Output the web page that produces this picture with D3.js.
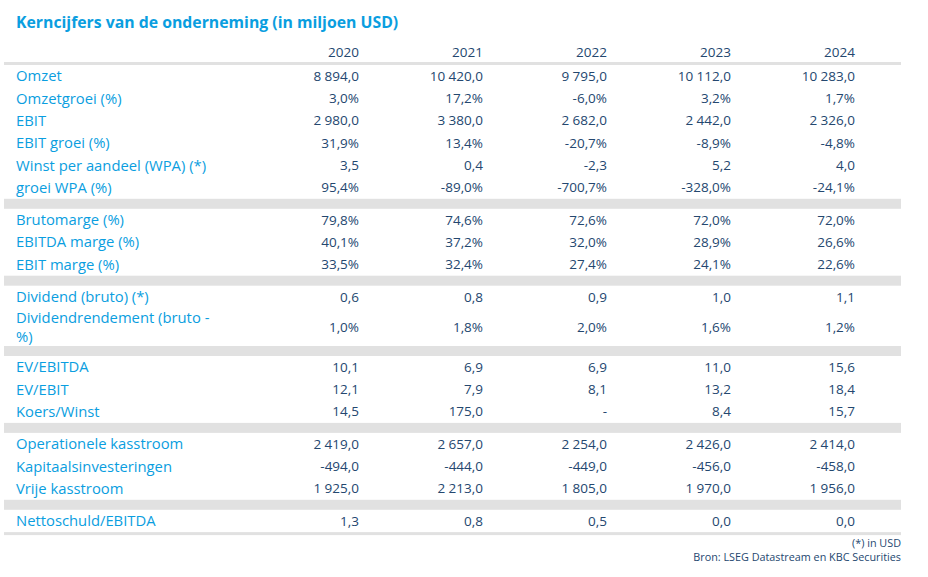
<!DOCTYPE html>
<html>
<head>
<meta charset="utf-8">
<script src="https://cdn.jsdelivr.net/npm/d3@7"></script>
<style>
  body { margin: 0; background: #fff; }
  svg { display: block; font-family: "Open Sans", "Noto Sans", sans-serif; }
</style>
</head>
<body>
<script>
// kolommen
var years = ["2020", "2021", "2022", "2023", "2024"];

// kerncijfers per rij (null = "-")
var omzet = [8894.0, 10420.0, 9795.0, 10112.0, 10283.0];
var omzetGroei = [3.0, 17.2, -6.0, 3.2, 1.7];
var ebit = [2980.0, 3380.0, 2682.0, 2442.0, 2326.0];
var ebitGroei = [31.9, 13.4, -20.7, -8.9, -4.8];
var wpa = [3.5, 0.4, -2.3, 5.2, 4.0];
var groeiWpa = [95.4, -89.0, -700.7, -328.0, -24.1];
var brutomarge = [79.8, 74.6, 72.6, 72.0, 72.0];
var ebitdaMarge = [40.1, 37.2, 32.0, 28.9, 26.6];
var ebitMarge = [33.5, 32.4, 27.4, 24.1, 22.6];
var dividend = [0.6, 0.8, 0.9, 1.0, 1.1];
var dividendRendement = [1.0, 1.8, 2.0, 1.6, 1.2];
var evEbitda = [10.1, 6.9, 6.9, 11.0, 15.6];
var evEbit = [12.1, 7.9, 8.1, 13.2, 18.4];
var koersWinst = [14.5, 175.0, null, 8.4, 15.7];
var operKasstroom = [2419.0, 2657.0, 2254.0, 2426.0, 2414.0];
var kapInvest = [-494.0, -444.0, -449.0, -456.0, -458.0];
var vrijeKasstroom = [1925.0, 2213.0, 1805.0, 1970.0, 1956.0];
var nettoschuld = [1.3, 0.8, 0.5, 0.0, 0.0];

var title = "Kerncijfers van de onderneming (in miljoen USD)";
var footnotes = ["(*) in USD", "Bron: LSEG Datastream en KBC Securities"];

var groups = [
    [["Omzet", omzet, "n"], ["Omzetgroei (%)", omzetGroei, "p"], ["EBIT", ebit, "n"],
     ["EBIT groei (%)", ebitGroei, "p"], ["Winst per aandeel (WPA) (*)", wpa, "n"], ["groei WPA (%)", groeiWpa, "p"]],
    [["Brutomarge (%)", brutomarge, "p"], ["EBITDA marge (%)", ebitdaMarge, "p"], ["EBIT marge (%)", ebitMarge, "p"]],
    [["Dividend (bruto) (*)", dividend, "n"], ["Dividendrendement (bruto -\n%)", dividendRendement, "p"]],
    [["EV/EBITDA", evEbitda, "n"], ["EV/EBIT", evEbit, "n"], ["Koers/Winst", koersWinst, "n"]],
    [["Operationele kasstroom", operKasstroom, "n"], ["Kapitaalsinvesteringen", kapInvest, "n"], ["Vrije kasstroom", vrijeKasstroom, "n"]],
    [["Nettoschuld/EBITDA", nettoschuld, "n"]]
];

var width = 928, height = 577;
var left = 4, right = 901;
var labelX = 16;
var rowH = 22.3, tallH = 38, bandH = 10;
var labelColor = "#0a9ee0", valueColor = "#24476f", gray = "#e1e1e1";

var nl = d3.formatLocale({ decimal: ",", thousands: " ", grouping: [3], currency: ["", ""], minus: "-" });
var fmtN = nl.format(",.1f");
var fmt = function (v, type) {
    if (v == null) return "-";
    return type == "p" ? fmtN(v) + "%" : fmtN(v);
};

var x = d3.scalePoint().domain(years).range([359, 855]);

// rijen opbouwen met y-positie
var rows = [], bands = [];
var yPos = 65;
groups.forEach(function (g, gi) {
    g.forEach(function (r) {
        var h = r[0].indexOf("\n") >= 0 ? tallH : rowH;
        rows.push({ label: r[0], values: r[1], type: r[2], cy: yPos + h / 2 });
        yPos += h;
    });
    if (gi < groups.length - 1) {
        bands.push(yPos);
        yPos += bandH;
    }
});
var tableBottom = yPos;

var svg = d3.select("body").append("svg")
    .attr("width", width)
    .attr("height", height);

svg.append("text")
    .attr("x", labelX)
    .attr("y", 28)
    .attr("fill", labelColor)
    .attr("font-size", 15.8)
    .attr("font-weight", "bold")
    .text(title);

svg.selectAll("text.year").data(years).enter().append("text")
    .attr("class", "year")
    .attr("x", function (d) { return x(d); })
    .attr("y", 52)
    .attr("dy", "0.35em")
    .attr("text-anchor", "end")
    .attr("font-size", 13.5)
    .attr("fill", valueColor)
    .text(function (d) { return d; });

svg.append("rect")
    .attr("x", left).attr("y", 62)
    .attr("width", right - left).attr("height", 3)
    .attr("fill", gray);

svg.selectAll("rect.band").data(bands).enter().append("rect")
    .attr("class", "band")
    .attr("x", left).attr("y", function (d) { return d; })
    .attr("width", right - left).attr("height", bandH)
    .attr("fill", gray);

svg.append("rect")
    .attr("x", left).attr("y", tableBottom)
    .attr("width", right - left).attr("height", 3)
    .attr("fill", gray);

var rowG = svg.selectAll("g.row").data(rows).enter().append("g")
    .attr("class", "row");

rowG.each(function (d) {
    var g = d3.select(this);
    var lines = d.label.split("\n");
    var lineH = 19;
    g.selectAll("text.label").data(lines).enter().append("text")
        .attr("class", "label")
        .attr("x", labelX)
        .attr("y", function (l, i) { return d.cy + (i - (lines.length - 1) / 2) * lineH; })
        .attr("dy", "0.35em")
        .attr("font-size", 14.8)
        .attr("fill", labelColor)
        .text(function (l) { return l; });
    g.selectAll("text.val").data(d.values).enter().append("text")
        .attr("class", "val")
        .attr("x", function (v, i) { return x(years[i]); })
        .attr("y", d.cy)
        .attr("dy", "0.35em")
        .attr("text-anchor", "end")
        .attr("font-size", 13.5)
        .attr("fill", valueColor)
        .text(function (v) { return fmt(v, d.type); });
});

svg.selectAll("text.note").data(footnotes).enter().append("text")
    .attr("class", "note")
    .attr("x", right)
    .attr("y", function (d, i) { return 543 + i * 14.5; })
    .attr("dy", "0.35em")
    .attr("text-anchor", "end")
    .attr("font-size", 10.8)
    .attr("fill", valueColor)
    .text(function (d) { return d; });
</script>
</body>
</html>
